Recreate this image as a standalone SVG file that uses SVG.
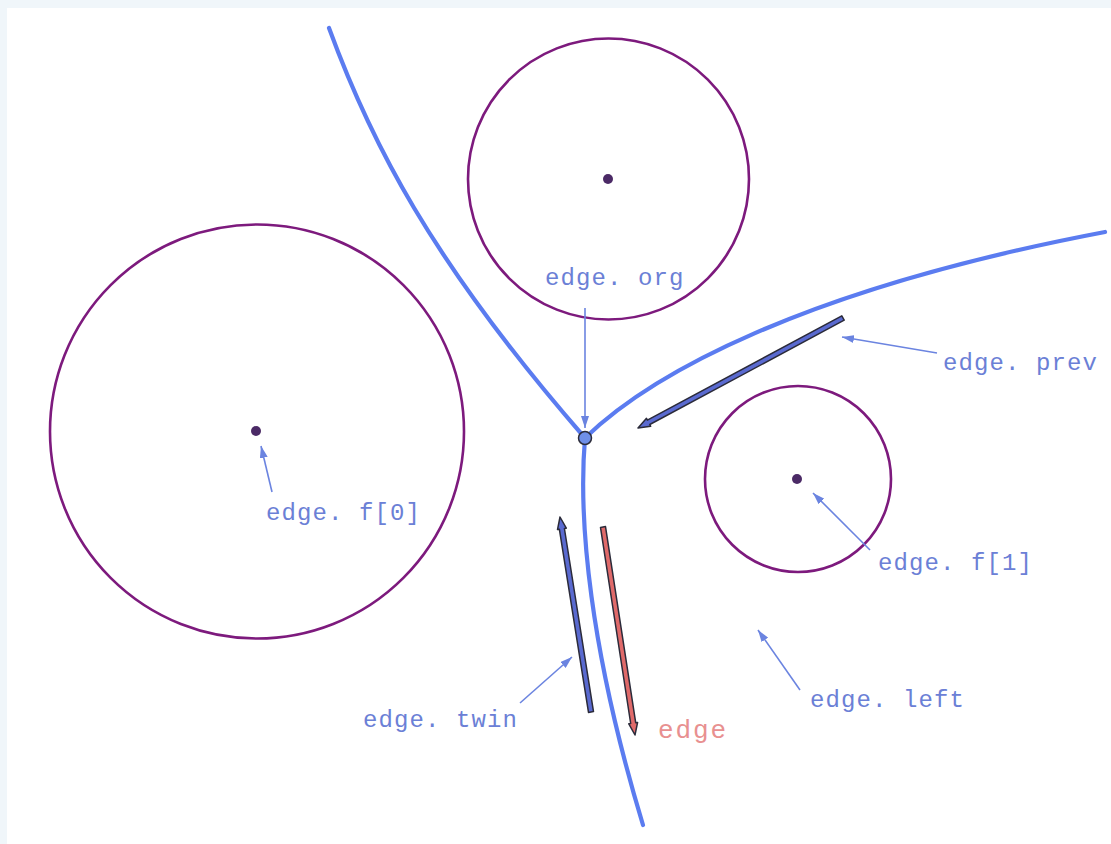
<svg xmlns="http://www.w3.org/2000/svg" width="1111" height="844" viewBox="0 0 1111 844">
<defs>
<style>
.site{fill:none;stroke:#7d1a7d;stroke-width:2.6}
.dot{fill:#4b2a66}
.vor{fill:none;stroke:#5b7cf0;stroke-width:4.2;stroke-linecap:round}
.ptr{stroke:#6b84e0;stroke-width:1.6;fill:none}
.lbl{font-family:"Liberation Mono",monospace;font-size:24px;letter-spacing:1.1px;fill:#6b80d6}
.he{stroke:#2b2b3a;stroke-width:1.5;stroke-linejoin:round}
</style>
<marker id="ah" viewBox="0 0 12 8" refX="12" refY="4" markerWidth="12" markerHeight="8" markerUnits="userSpaceOnUse" orient="auto">
<path d="M0,0 L12,4 L0,8 z" fill="#6b84e0"/>
</marker>
</defs>
<rect x="0" y="0" width="1111" height="844" fill="#f0f6fa"/>
<rect x="7" y="8" width="1104" height="836" fill="#ffffff"/>

<g id="site-top"><circle class="site" cx="608.5" cy="179" r="140.5"/><circle class="dot" cx="608" cy="179" r="5"/></g>
<g id="site-left"><circle class="site" cx="257" cy="431.5" r="207"/><circle class="dot" cx="256" cy="431" r="5"/></g>
<g id="site-right"><circle class="site" cx="798" cy="479" r="93"/><circle class="dot" cx="797" cy="479" r="5"/></g>

<g id="voronoi-edges">
<path class="vor" d="M329,28 C370,140 430,260 585,438"/>
<path class="vor" d="M585,438 C650,375 800,290 1105,232"/>
<path class="vor" d="M585,438 C578,520 590,650 643,825"/>
</g>

<g id="vertex"><circle cx="585" cy="438" r="6.5" fill="#6f8fe8" stroke="#2b2b3a" stroke-width="1.5"/></g>

<g id="half-edges">
<polygon id="twin" class="he" fill="#5a6ad0" points="593.5,711.6 564.4,528.5 566.3,528.2 560,517 557.5,529.6 559.4,529.3 588.5,712.4"/>
<polygon id="edge" class="he" fill="#e06a6a" points="600.5,527.4 630.7,723.5 628.8,723.8 635,735 637.6,722.4 635.7,722.7 605.5,526.6"/>
<polygon id="prev" class="he" fill="#5a6ad0" points="841.8,315.8 647.4,420.1 646.5,418.3 638,428 650.7,426.3 649.8,424.5 844.2,320.2"/>
</g>

<g id="connectors">
<line class="ptr" x1="585" y1="308" x2="585" y2="428" marker-end="url(#ah)"/>
<line class="ptr" x1="937" y1="353" x2="842" y2="337" marker-end="url(#ah)"/>
<line class="ptr" x1="272" y1="492" x2="261" y2="446" marker-end="url(#ah)"/>
<line class="ptr" x1="870" y1="550" x2="813" y2="493" marker-end="url(#ah)"/>
<line class="ptr" x1="800" y1="690" x2="758" y2="630" marker-end="url(#ah)"/>
<line class="ptr" x1="520" y1="703" x2="572" y2="657" marker-end="url(#ah)"/>
</g>

<g id="labels">
<text class="lbl" x="545" y="285">edge.<tspan x="638">org</tspan></text>
<text class="lbl" x="943" y="370">edge.<tspan x="1036">prev</tspan></text>
<text class="lbl" x="266" y="520">edge.<tspan x="359">f[0]</tspan></text>
<text class="lbl" x="878" y="570">edge.<tspan x="971">f[1]</tspan></text>
<text class="lbl" x="810" y="707">edge.<tspan x="903">left</tspan></text>
<text class="lbl" x="363" y="727">edge.<tspan x="456">twin</tspan></text>
<text class="lbl" x="658" y="738" style="fill:#e89090;font-size:26px;letter-spacing:1.9px">edge</text>
</g>
</svg>
